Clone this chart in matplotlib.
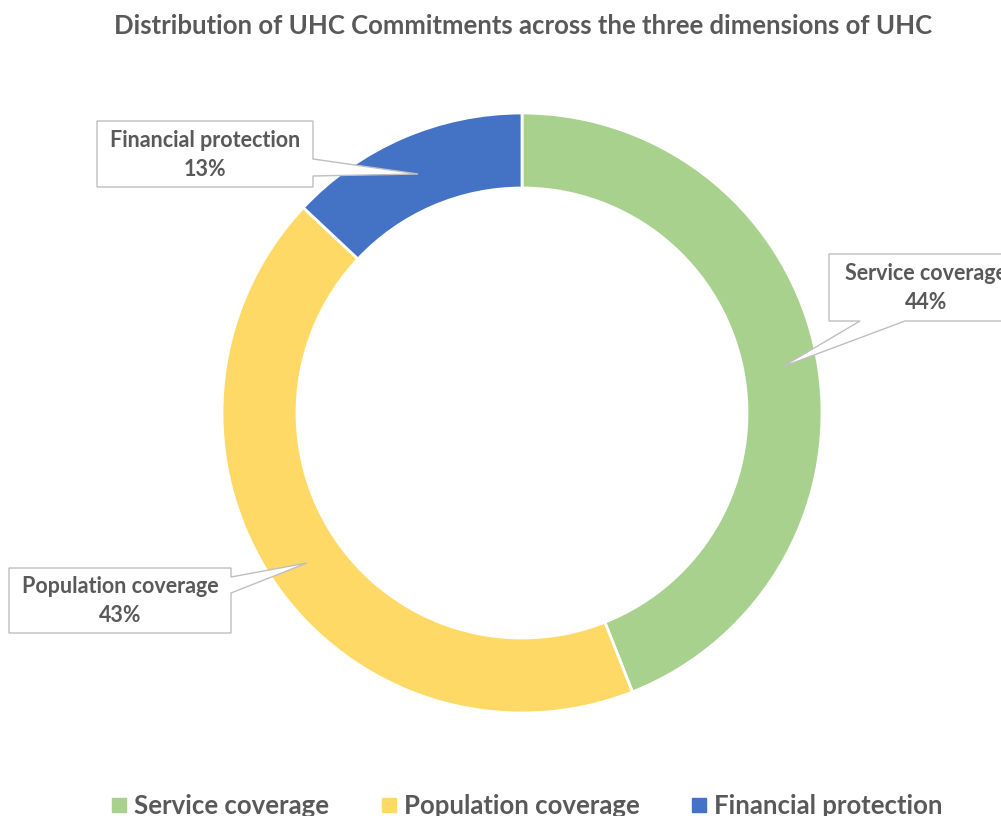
import matplotlib.pyplot as plt
from matplotlib.patches import Polygon
from matplotlib.lines import Line2D

# UHC commitments split across the three dimensions
categories = ['Service coverage', 'Population coverage', 'Financial protection']
shares = [44, 43, 13]
colors = ['#A9D18E', '#FFD966', '#4472C4']

W, H = 1001, 816
TEXT = '#595959'
plt.rcParams['font.family'] = ['Lato', 'DejaVu Sans']

fig = plt.figure(figsize=(W / 100, H / 100), dpi=100)
ax = fig.add_axes([0, 0, 1, 1])

cx, cy, r = 522, H - 413, 300
ax.pie(shares, colors=colors, startangle=90, counterclock=False,
       center=(cx, cy), radius=r,
       wedgeprops=dict(width=75, edgecolor='white', linewidth=2))
ax.set_xlim(0, W)
ax.set_ylim(0, H)
ax.set_aspect('equal')
ax.axis('off')


def callout(points, text_xy, label, value):
    # box with a pointer, given in pixel coordinates from the top
    pts = [(x, H - y) for x, y in points]
    ax.add_patch(Polygon(pts, closed=True, facecolor='white',
                         edgecolor='#BFBFBF', linewidth=1, zorder=5,
                         clip_on=False))
    tx, ty = text_xy
    ax.text(tx, H - ty, f'{label}\n{value}%', ha='center', va='center',
            fontsize=15.5, fontweight='bold', color=TEXT, linespacing=1.5,
            zorder=6)


# Financial protection: pointer leaves the right edge
callout([(97, 121), (313, 121), (313, 159), (418, 174), (313, 176),
         (313, 187), (97, 187)], (205, 155), categories[2], shares[2])
# Service coverage: pointer leaves the bottom edge (box runs past the edge)
callout([(829, 254), (1010, 254), (1010, 321), (905, 321), (782, 367),
         (860, 321), (829, 321)], (926, 288), categories[0], shares[0])
# Population coverage: pointer leaves the right edge
callout([(9, 568), (231, 568), (231, 577), (307, 563), (231, 593),
         (231, 633), (9, 633)], (120, 601), categories[1], shares[1])

fig.text(523 / W, 1 - 26 / H,
         'Distribution of UHC Commitments across the three dimensions of UHC',
         ha='center', va='center', fontsize=18.5, fontweight='bold', color=TEXT)

handles = [Line2D([], [], marker='s', linestyle='', markersize=10,
                  markerfacecolor=c, markeredgecolor=c) for c in colors]
fig.legend(handles, categories, loc='center', bbox_to_anchor=(527 / W, 1 - 806 / H),
           ncol=3, frameon=False, handlelength=0.6, handletextpad=0.3,
           columnspacing=2.0, prop=dict(size=18.5, weight='bold'),
           labelcolor=TEXT)

fig.savefig('out.png', dpi=100, facecolor='white')
